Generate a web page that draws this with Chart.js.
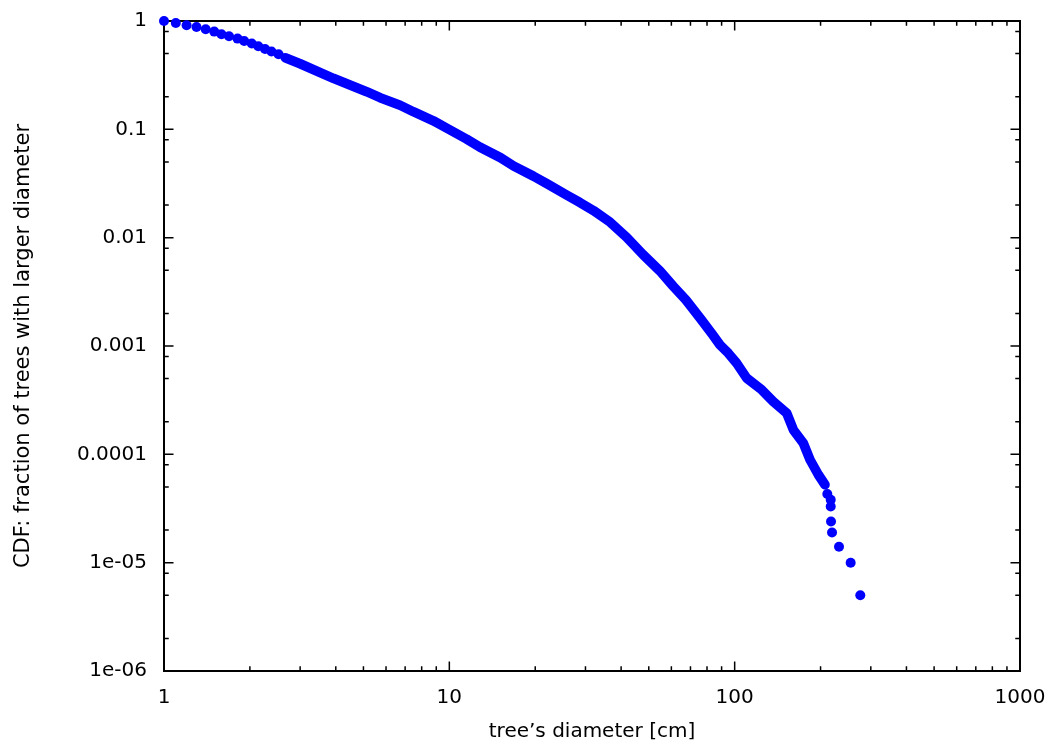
<!DOCTYPE html>
<html><head><meta charset="utf-8">
<script src="https://cdn.jsdelivr.net/npm/chart.js@4/dist/chart.umd.min.js"></script>
<style>html,body{margin:0;padding:0;background:#fff;overflow:hidden}canvas{display:block}</style>
</head><body>
<canvas id="c" width="1052" height="744"></canvas>
<script>
// ---- data ----
const headDiameter = [1.0, 1.1, 1.2, 1.3, 1.4, 1.5, 1.59, 1.69, 1.81, 1.91, 2.03, 2.14, 2.26, 2.38, 2.52];
const headCdf      = [1.0, 0.958, 0.913, 0.880, 0.839, 0.798, 0.754, 0.723, 0.688, 0.654, 0.619, 0.584, 0.551, 0.522, 0.493];

const bandDiameter = [2.66, 3.0, 3.92, 5.13, 5.72, 6.72, 7.48, 8.79, 9.79, 11.5, 12.8, 15.1, 16.8, 19.7, 22.0, 25.8, 28.7, 32.0, 36.6, 41.8, 47.7, 54.7, 60.8, 67.5, 75.6, 83.3, 88.8, 95.0, 101.6, 110.2, 124.4, 136.6, 152.2, 160.6, 174.0, 183.7, 196.5, 207.3];
const bandCdf      = [0.458, 0.403, 0.296, 0.2225, 0.196, 0.167, 0.1455, 0.120, 0.1025, 0.0812, 0.0685, 0.0548, 0.0458, 0.0370, 0.0315, 0.0247, 0.0211, 0.0178, 0.0139, 0.0101, 0.00699, 0.00493, 0.00358, 0.00266, 0.001816, 0.001293, 0.001024, 0.000858, 0.000694, 0.000505, 0.000394, 0.000307, 0.000240, 0.0001685, 0.000127, 0.0000891, 0.0000648, 0.0000524];

const tailDiameter = [211.2, 217.1, 217.1, 217.6, 219.4, 232.1, 255.0, 275.6];
const tailCdf      = [4.3e-5, 3.8e-5, 3.3e-5, 2.4e-5, 1.9e-5, 1.4e-5, 1.0e-5, 5.0e-6];

const xMajorTicks = [1, 10, 100, 1000];
const xTickLabels = ['1', '10', '100', '1000'];
const yMajorTicks = [1e-6, 1e-5, 1e-4, 1e-3, 1e-2, 1e-1, 1];
const yTickLabels = ['1e-06', '1e-05', '0.0001', '0.001', '0.01', '0.1', '1'];
const xMinorSteps = [2, 3, 4, 5, 6, 7, 8, 9];
const yMinorSteps = [2, 5, 8];

const xTitle = 'tree\u2019s diameter [cm]';
const yTitle = 'CDF: fraction of trees with larger diameter';

// ---- helpers ----
const pts = (xs, ys) => xs.map((v, i) => ({x: v, y: ys[i]}));
function buildTicks(majors, steps) {
  const list = majors.map(v => ({value: v, major: true}));
  for (let i = 0; i < majors.length - 1; i++) {
    steps.forEach(s => list.push({value: majors[i] * s, major: false}));
  }
  return list.sort((a, b) => a.value - b.value);
}
function labelFor(value, majors, labels) {
  for (let i = 0; i < majors.length; i++) {
    if (Math.abs(value - majors[i]) <= majors[i] * 1e-6) return labels[i];
  }
  return '';
}
function clearPad(s) { s.paddingTop = 0; s.paddingBottom = 0; s.paddingLeft = 0; s.paddingRight = 0; }

Chart.defaults.font.family = "'DejaVu Sans', sans-serif";
Chart.defaults.font.size = 20;
Chart.defaults.color = '#000';

const frameAndTicks = {
  id: 'frameAndTicks',
  beforeDatasetsDraw(chart) {
    const {ctx, chartArea: a, scales: {x, y}} = chart;
    const majorLen = 9.5, minorLen = 4.75;
    ctx.save();
    ctx.strokeStyle = '#000';
    ctx.lineWidth = 1.5;
    ctx.beginPath();
    x.ticks.forEach(t => {
      const px = x.getPixelForValue(t.value);
      const len = t.major ? majorLen : minorLen;
      ctx.moveTo(px, a.bottom); ctx.lineTo(px, a.bottom - len);
      ctx.moveTo(px, a.top); ctx.lineTo(px, a.top + len);
    });
    y.ticks.forEach(t => {
      const py = y.getPixelForValue(t.value);
      const len = t.major ? majorLen : minorLen;
      ctx.moveTo(a.left, py); ctx.lineTo(a.left + len, py);
      ctx.moveTo(a.right, py); ctx.lineTo(a.right - len, py);
    });
    ctx.stroke();
    ctx.lineWidth = 2;
    ctx.strokeRect(a.left, a.top, a.right - a.left, a.bottom - a.top);
    ctx.restore();
  }
};

const blue = '#0000ff';
const R = 5;

new Chart(document.getElementById('c'), {
  type: 'scatter',
  data: {
    datasets: [
      {data: pts(headDiameter, headCdf), showLine: false, pointRadius: R, pointBackgroundColor: blue, pointBorderWidth: 0, clip: false},
      {data: pts(bandDiameter, bandCdf), showLine: true, borderColor: blue, borderWidth: 9.6, borderCapStyle: 'round', borderJoinStyle: 'round', pointRadius: 0, tension: 0, clip: false},
      {data: pts(tailDiameter, tailCdf), showLine: false, pointRadius: R, pointBackgroundColor: blue, pointBorderWidth: 0, clip: false}
    ]
  },
  options: {
    responsive: false,
    animation: false,
    devicePixelRatio: 1,
    layout: {padding: {top: 21, right: 32, left: 0, bottom: 0}},
    plugins: {legend: {display: false}, tooltip: {enabled: false}},
    scales: {
      x: {
        type: 'logarithmic', min: 1, max: 1000,
        afterBuildTicks: s => { s.ticks = buildTicks(xMajorTicks, xMinorSteps); },
        afterFit: s => { s.height = 73; clearPad(s); },
        grid: {display: false, drawTicks: false, tickLength: 0},
        border: {display: false},
        ticks: {autoSkip: false, maxRotation: 0, minRotation: 0, padding: 15,
          callback: v => labelFor(v, xMajorTicks, xTickLabels)},
        title: {display: true, text: xTitle, padding: {top: 0, bottom: 0}}
      },
      y: {
        type: 'logarithmic', min: 1e-6, max: 1,
        afterBuildTicks: s => { s.ticks = buildTicks(yMajorTicks, yMinorSteps); },
        afterFit: s => { s.width = 164; clearPad(s); },
        grid: {display: false, drawTicks: false, tickLength: 0},
        border: {display: false},
        ticks: {autoSkip: false, padding: 17,
          callback: v => labelFor(v, yMajorTicks, yTickLabels)},
        title: {display: true, text: yTitle, font: {size: 21}, padding: {top: 11, bottom: 0}}
      }
    }
  },
  plugins: [frameAndTicks]
});
</script>
</body></html>
